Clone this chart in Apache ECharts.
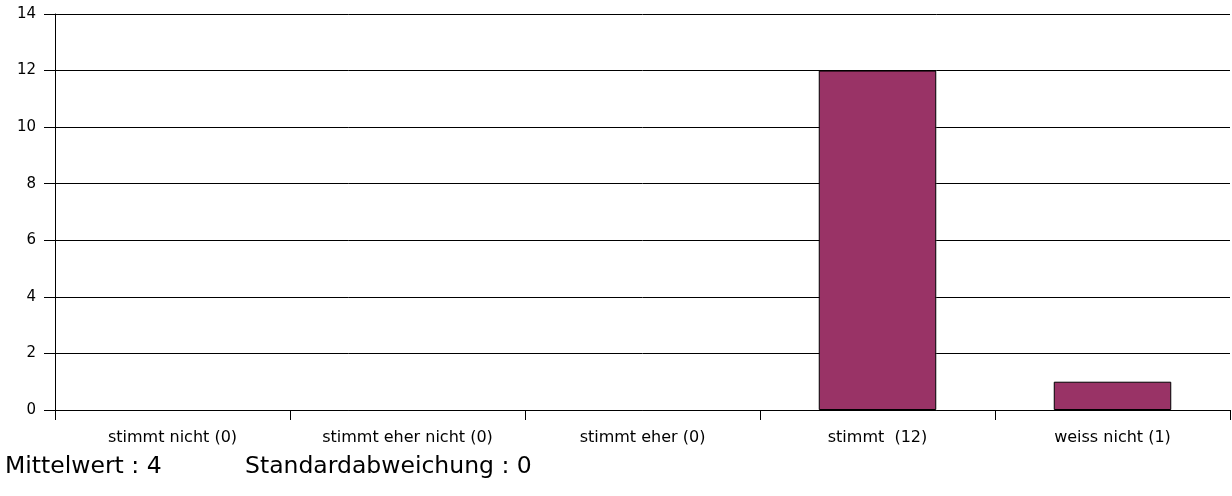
<!DOCTYPE html>
<html><head><meta charset="utf-8">
<script src="https://cdn.jsdelivr.net/npm/echarts@6/dist/echarts.min.js"></script>
<style>html,body{margin:0;padding:0;background:#fff}#c{width:1232px;height:496px}</style>
</head><body><div id="c"></div>
<script>
const categories = ['stimmt nicht (0)', 'stimmt eher nicht (0)', 'stimmt eher (0)', 'stimmt  (12)', 'weiss nicht (1)'];
const values = [0, 0, 0, 12, 1];
const yTicks = [0, 2, 4, 6, 8, 10, 12, 14];
const footerMean = 'Mittelwert : 4';
const footerSd = 'Standardabweichung : 0';

const chart = echarts.init(document.getElementById('c'), null, {renderer: 'canvas'});
const font = 'DejaVu Sans, Verdana, sans-serif';
const barData = values.map(v => v === 0 ? {value: v, itemStyle: {borderWidth: 0}} : v);
chart.setOption({
  animation: false,
  grid: {left: 55, right: 2, top: 14, bottom: 86, containLabel: false},
  xAxis: {
    type: 'category', data: categories,
    axisLine: {lineStyle: {color: '#000', width: 1}},
    axisTick: {show: true, length: 10, alignWithLabel: false, lineStyle: {color: '#000'}},
    axisLabel: {color: '#000', fontFamily: font, fontSize: 16, margin: 20}
  },
  yAxis: {
    type: 'value', min: yTicks[0], max: yTicks[yTicks.length - 1], interval: 2,
    axisLine: {show: true, lineStyle: {color: '#000', width: 1}},
    axisTick: {show: true, length: 11, lineStyle: {color: '#000'}},
    axisLabel: {color: '#000', fontFamily: font, fontSize: 15, margin: 19},
    splitLine: {show: true, lineStyle: {color: '#000', width: 1}}
  },
  series: [{
    type: 'bar', data: barData, barWidth: '50%',
    itemStyle: {color: '#993366', borderColor: '#000', borderWidth: 1}
  }],
  graphic: [
    {type: 'text', left: 5, top: 455, style: {text: footerMean, fill: '#000', font: '23.5px ' + font}},
    {type: 'text', left: 245, top: 455, style: {text: footerSd, fill: '#000', font: '23.5px ' + font}}
  ]
});
</script></body></html>
